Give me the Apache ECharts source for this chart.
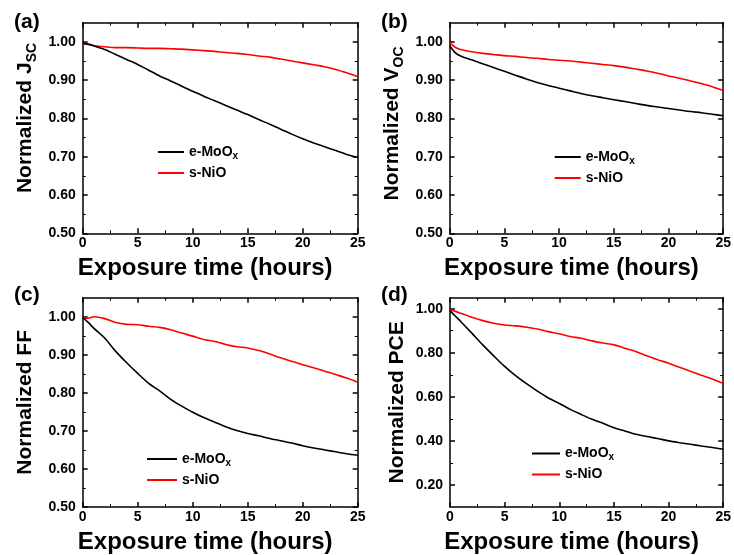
<!DOCTYPE html>
<html>
<head>
<meta charset="utf-8">
<script src="https://cdn.jsdelivr.net/npm/echarts@6/dist/echarts.min.js"></script>
<style>
  html, body { margin: 0; padding: 0; background: #fff; }
  #chart { width: 734px; height: 555px; }
</style>
</head>
<body>
<div id="chart"></div>
<script>
// Exposure time (hours) at which each normalized value is sampled
const HOURS = [0, 0.5, 1, 2, 3, 4, 5, 6, 7, 8, 9, 10, 11, 12, 13, 14, 15, 16, 17, 18, 19, 20, 21, 22, 23, 24, 25];

// (a) Normalized Jsc
const JSC_MOOX = [0.996, 0.994, 0.990, 0.980, 0.967, 0.954, 0.941, 0.926, 0.911, 0.898, 0.884, 0.871, 0.858, 0.846, 0.834, 0.822, 0.810, 0.797, 0.785, 0.772, 0.759, 0.747, 0.736, 0.726, 0.716, 0.706, 0.698];
const JSC_NIO  = [0.997, 0.993, 0.990, 0.987, 0.985, 0.985, 0.984, 0.983, 0.983, 0.982, 0.981, 0.979, 0.977, 0.975, 0.972, 0.970, 0.967, 0.963, 0.960, 0.955, 0.950, 0.945, 0.940, 0.935, 0.928, 0.919, 0.909];

// (b) Normalized Voc
const VOC_MOOX = [0.990, 0.972, 0.963, 0.953, 0.943, 0.933, 0.923, 0.913, 0.903, 0.894, 0.886, 0.879, 0.872, 0.865, 0.859, 0.854, 0.849, 0.844, 0.839, 0.834, 0.830, 0.826, 0.822, 0.818, 0.815, 0.811, 0.807];
const VOC_NIO  = [0.998, 0.986, 0.980, 0.974, 0.970, 0.967, 0.964, 0.962, 0.959, 0.957, 0.954, 0.952, 0.950, 0.947, 0.944, 0.941, 0.938, 0.934, 0.929, 0.924, 0.918, 0.911, 0.905, 0.898, 0.891, 0.883, 0.873];

// (c) Normalized FF
const FF_MOOX = [0.998, 0.985, 0.970, 0.944, 0.909, 0.879, 0.851, 0.825, 0.805, 0.783, 0.765, 0.749, 0.735, 0.723, 0.711, 0.701, 0.693, 0.687, 0.680, 0.674, 0.668, 0.661, 0.655, 0.650, 0.645, 0.640, 0.636];
const FF_NIO  = [0.997, 0.996, 1.000, 0.995, 0.985, 0.980, 0.979, 0.975, 0.972, 0.966, 0.957, 0.949, 0.940, 0.935, 0.927, 0.921, 0.918, 0.911, 0.902, 0.892, 0.883, 0.874, 0.866, 0.857, 0.848, 0.839, 0.828];

// (d) Normalized PCE
const PCE_MOOX = [0.991, 0.966, 0.941, 0.889, 0.836, 0.786, 0.738, 0.696, 0.660, 0.626, 0.595, 0.570, 0.543, 0.520, 0.498, 0.480, 0.460, 0.445, 0.430, 0.420, 0.411, 0.400, 0.392, 0.385, 0.377, 0.370, 0.362];
const PCE_NIO  = [0.994, 0.988, 0.979, 0.961, 0.946, 0.934, 0.926, 0.922, 0.916, 0.908, 0.896, 0.886, 0.874, 0.866, 0.854, 0.844, 0.836, 0.821, 0.806, 0.786, 0.768, 0.753, 0.734, 0.716, 0.698, 0.681, 0.660];

// Tick values
const Y_MAJOR_ABC = [0.5, 0.6, 0.7, 0.8, 0.9, 1.0];
const Y_MINOR_ABC = [0.55, 0.65, 0.75, 0.85, 0.95];
const Y_MAJOR_D = [0.2, 0.4, 0.6, 0.8, 1.0];
const Y_MINOR_D = [0.3, 0.5, 0.7, 0.9];

const SERIES_NAMES = ['e-MoOx', 's-NiO'];
const COLORS = ['#000000', '#ff0000'];

const FONT = '"Liberation Sans", Arial, Helvetica, sans-serif';
const INK = '#000';

const panels = [
  { tag: '(a)', tagPos: [14, 12], grid: { left: 82.7, top: 22.7 },
    yName: '{m|Normalized J}{s|SC}', yNamePad: [0, 0, 0, 20], yNameGap: 44,
    yMin: 0.5, yMax: 1.05, yMajor: Y_MAJOR_ABC, yMinor: Y_MINOR_ABC,
    moox: JSC_MOOX, nio: JSC_NIO, legend: { left: 158, top: 145, w: 26 } },
  { tag: '(b)', tagPos: [381, 12], grid: { left: 449.7, top: 22.7 },
    yName: '{m|Normalized V}{s|OC}', yNamePad: [0, 0, 0, 9], yNameGap: 44,
    yMin: 0.5, yMax: 1.05, yMajor: Y_MAJOR_ABC, yMinor: Y_MINOR_ABC,
    moox: VOC_MOOX, nio: VOC_NIO, legend: { left: 554.7, top: 150, w: 26 } },
  { tag: '(c)', tagPos: [14, 285], grid: { left: 82.7, top: 297.7 },
    yName: '{m|Normalized FF}', yNamePad: [0, 0, 0, 0], yNameGap: 44,
    yMin: 0.5, yMax: 1.05, yMajor: Y_MAJOR_ABC, yMinor: Y_MINOR_ABC,
    moox: FF_MOOX, nio: FF_NIO, legend: { left: 147, top: 452, w: 30 } },
  { tag: '(d)', tagPos: [381, 285], grid: { left: 450, top: 297.7 },
    yName: '{m|Normalized PCE}', yNamePad: [0, 0, 0, 0], yNameGap: 40,
    yMin: 0.1, yMax: 1.05, yMajor: Y_MAJOR_D, yMinor: Y_MINOR_D,
    moox: PCE_MOOX, nio: PCE_NIO, legend: { left: 532, top: 446.5, w: 28 } }
];

const PLOT_W = 275;
const PLOT_H = 210.6;

const grids = [], xAxes = [], yAxes = [], series = [], legends = [], graphics = [];

const labelStyle = { color: INK, fontFamily: FONT, fontWeight: 'bold', fontSize: 14 };
const axisLine = { show: true, onZero: false, lineStyle: { color: INK, width: 1.5 } };
const majorTick = values => ({ show: true, inside: true, length: 5, customValues: values, lineStyle: { color: INK, width: 1.5 } });

panels.forEach((p, g) => {
  grids.push({ left: p.grid.left, top: p.grid.top, width: PLOT_W, height: PLOT_H, containLabel: false });

  // bottom x axis with labels and title
  xAxes.push({
    type: 'value', gridIndex: g, position: 'bottom', min: 0, max: 25, interval: 5,
    axisLine: axisLine,
    axisTick: { show: true, inside: true, length: 5, lineStyle: { color: INK, width: 1.5 } },
    minorTick: { show: true, splitNumber: 2, length: 3, lineStyle: { color: INK, width: 1 } },
    axisLabel: Object.assign({ margin: 3 }, labelStyle),
    splitLine: { show: false }, minorSplitLine: { show: false },
    name: 'Exposure time (hours)', nameLocation: 'middle', nameGap: 23,
    nameTextStyle: { color: INK, fontFamily: FONT, fontWeight: 'bold', fontSize: 24, padding: [0, 30, 0, 0] }
  });
  // top mirror x axis (ticks only)
  xAxes.push({
    type: 'value', gridIndex: g, position: 'top', min: 0, max: 25, interval: 5,
    axisLine: axisLine,
    axisTick: { show: true, inside: true, length: 5, lineStyle: { color: INK, width: 1.5 } },
    minorTick: { show: true, splitNumber: 2, length: 3, lineStyle: { color: INK, width: 1 } },
    axisLabel: { show: false }, splitLine: { show: false }, minorSplitLine: { show: false }
  });

  const yBase = { type: 'value', gridIndex: g, min: p.yMin, max: p.yMax, splitLine: { show: false } };
  // left y axis: labels, major ticks, title
  yAxes.push(Object.assign({}, yBase, {
    position: 'left', axisLine: axisLine, axisTick: majorTick(p.yMajor),
    axisLabel: Object.assign({ margin: 7, customValues: p.yMajor, formatter: v => v.toFixed(2) }, labelStyle),
    name: p.yName, nameLocation: 'middle', nameGap: p.yNameGap,
    nameTextStyle: {
      color: INK, fontFamily: FONT, fontWeight: 'bold', fontSize: 21, padding: p.yNamePad,
      rich: {
        m: { color: INK, fontFamily: FONT, fontWeight: 'bold', fontSize: 21, lineHeight: 26 },
        s: { color: INK, fontFamily: FONT, fontWeight: 'bold', fontSize: 14, lineHeight: 14, verticalAlign: 'bottom' }
      }
    }
  }));
  // right mirror y axis: major ticks
  yAxes.push(Object.assign({}, yBase, {
    position: 'right', axisLine: axisLine, axisTick: majorTick(p.yMajor), axisLabel: { show: false }
  }));
  // minor ticks, left and right
  ['left', 'right'].forEach(pos => {
    yAxes.push(Object.assign({}, yBase, {
      position: pos, axisLine: { show: false, onZero: false },
      axisTick: { show: true, inside: true, length: 3, customValues: p.yMinor, lineStyle: { color: INK, width: 1 } },
      axisLabel: { show: false }
    }));
  });

  [p.moox, p.nio].forEach((vals, k) => {
    series.push({
      name: SERIES_NAMES[k], type: 'line', xAxisIndex: 2 * g, yAxisIndex: 4 * g,
      data: HOURS.map((h, i) => [h, vals[i]]),
      symbol: 'none', showSymbol: false, smooth: 0.3,
      lineStyle: { color: COLORS[k], width: 1.6 }, itemStyle: { color: COLORS[k] },
      z: k === 0 ? 3 : 2, animation: false, silent: true
    });
  });

  legends.push({
    left: p.legend.left, top: p.legend.top, orient: 'vertical',
    icon: 'rect', itemWidth: p.legend.w, itemHeight: 2, itemGap: 5, padding: 0,
    data: SERIES_NAMES, selectedMode: false,
    formatter: n => n === 'e-MoOx' ? '{n|e-MoO}{s|x}' : '{n|s-NiO}',
    textStyle: {
      color: INK, fontFamily: FONT, fontWeight: 'bold', fontSize: 14,
      rich: {
        n: { color: INK, fontFamily: FONT, fontWeight: 'bold', fontSize: 14, lineHeight: 18 },
        s: { color: INK, fontFamily: FONT, fontWeight: 'bold', fontSize: 10, lineHeight: 10, verticalAlign: 'bottom' }
      }
    }
  });

  graphics.push({
    type: 'text', left: p.tagPos[0], top: p.tagPos[1],
    style: { text: p.tag, fill: INK, font: 'bold 21px ' + FONT }
  });
});

const chart = echarts.init(document.getElementById('chart'), null, { renderer: 'canvas' });
chart.setOption({
  animation: false,
  backgroundColor: '#fff',
  grid: grids, xAxis: xAxes, yAxis: yAxes, series: series, legend: legends, graphic: graphics
});
</script>
</body>
</html>
